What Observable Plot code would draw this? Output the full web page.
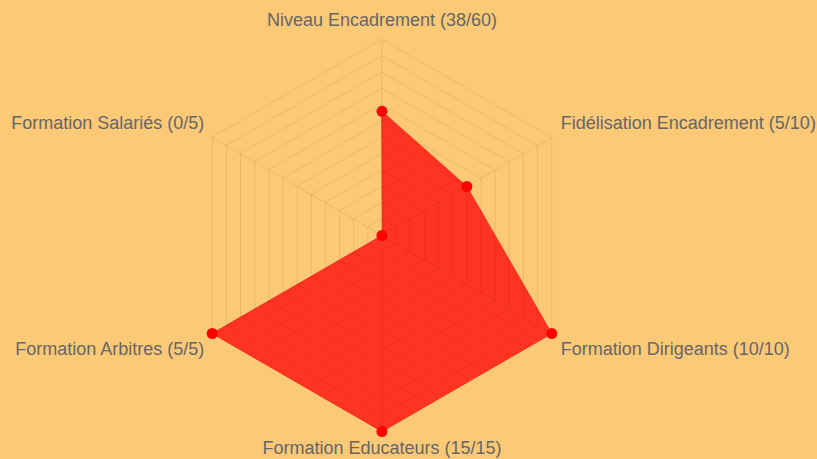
<!DOCTYPE html>
<html>
<head>
<meta charset="utf-8">
<script src="https://cdn.jsdelivr.net/npm/d3@7"></script>
<script src="https://cdn.jsdelivr.net/npm/@observablehq/plot@0.6"></script>
<style>
  html, body { margin: 0; padding: 0; background: #fcc977; }
  #chart { width: 817px; height: 459px; overflow: hidden; }
  svg { display: block; }
</style>
</head>
<body>
<div id="chart"></div>
<script>
// ---- data ----
const categories = [
  "Niveau Encadrement",
  "Fidélisation Encadrement",
  "Formation Dirigeants",
  "Formation Educateurs",
  "Formation Arbitres",
  "Formation Salariés"
];
const scores = [38, 5, 10, 15, 5, 0];
const maxima = [60, 10, 10, 15, 5, 5];
const gridLevels = 12;

// ---- layout (in units of the outer radius) ----
const W = 817, H = 459;
const cx = 381.5, cy = 235, R = 196;
const n = categories.length;
const ang = i => -Math.PI / 2 + (2 * Math.PI * i) / n;

const rows = categories.map((c, i) => {
  const r = scores[i] / maxima[i];
  return {
    cat: c, i, r,
    label: `${c} (${scores[i]}/${maxima[i]})`,
    x: r * Math.cos(ang(i)),
    y: -r * Math.sin(ang(i)) // Plot y increases upward
  };
});

const rings = [];
for (let l = 1; l <= gridLevels; l++) {
  for (let i = 0; i < n; i++) {
    const r = l / gridLevels;
    rings.push({ level: l, x: r * Math.cos(ang(i)), y: -r * Math.sin(ang(i)) });
  }
}
const spokes = categories.map((c, i) => ({ x2: Math.cos(ang(i)), y2: -Math.sin(ang(i)) }));

const labels = rows.map(d => {
  const a = ang(d.i);
  const ca = Math.cos(a), sa = Math.sin(a);
  const vertical = Math.abs(ca) < 0.01;
  return {
    label: d.label,
    x: ca, y: -sa,
    anchor: vertical ? "middle" : (ca > 0 ? "start" : "end"),
    la: sa < 0 ? "bottom" : "top",
    dx: vertical ? 0 : (ca > 0 ? 9 : -8),
    dy: vertical ? (sa < 0 ? -14 : 10) : (sa < 0 ? -9 : 9)
  };
});

const groups = d3.groups(labels, d => `${d.anchor}|${d.la}|${d.dx}|${d.dy}`);

const plot = Plot.plot({
  width: W,
  height: H,
  margin: 0,
  style: { background: "#fcc977", fontFamily: "'Liberation Sans', Arial, sans-serif" },
  x: { domain: [-cx / R, (W - cx) / R], range: [0, W], axis: null },
  y: { domain: [-(H - cy) / R, cy / R], range: [H, 0], axis: null },
  marks: [
    Plot.line(rows, { x: "x", y: "y", curve: "linear-closed", fill: "#ff3322", stroke: "#ff3322", strokeWidth: 1 }),
    Plot.line(rings, { x: "x", y: "y", z: "level", curve: "linear-closed", stroke: "#000", strokeOpacity: 0.08, strokeWidth: 1 }),
    Plot.link(spokes, { x1: 0, y1: 0, x2: "x2", y2: "y2", stroke: "#000", strokeOpacity: 0.08, strokeWidth: 1 }),
    Plot.dot(rows, { x: "x", y: "y", r: 5.5, fill: "#ff0000" }),
    ...groups.map(([, g]) =>
      Plot.text(g, {
        x: "x", y: "y", text: "label",
        textAnchor: g[0].anchor, lineAnchor: g[0].la,
        dx: g[0].dx, dy: g[0].dy,
        fill: "#666", fontSize: 18
      })
    )
  ]
});
document.getElementById("chart").appendChild(plot);
</script>
</body>
</html>
